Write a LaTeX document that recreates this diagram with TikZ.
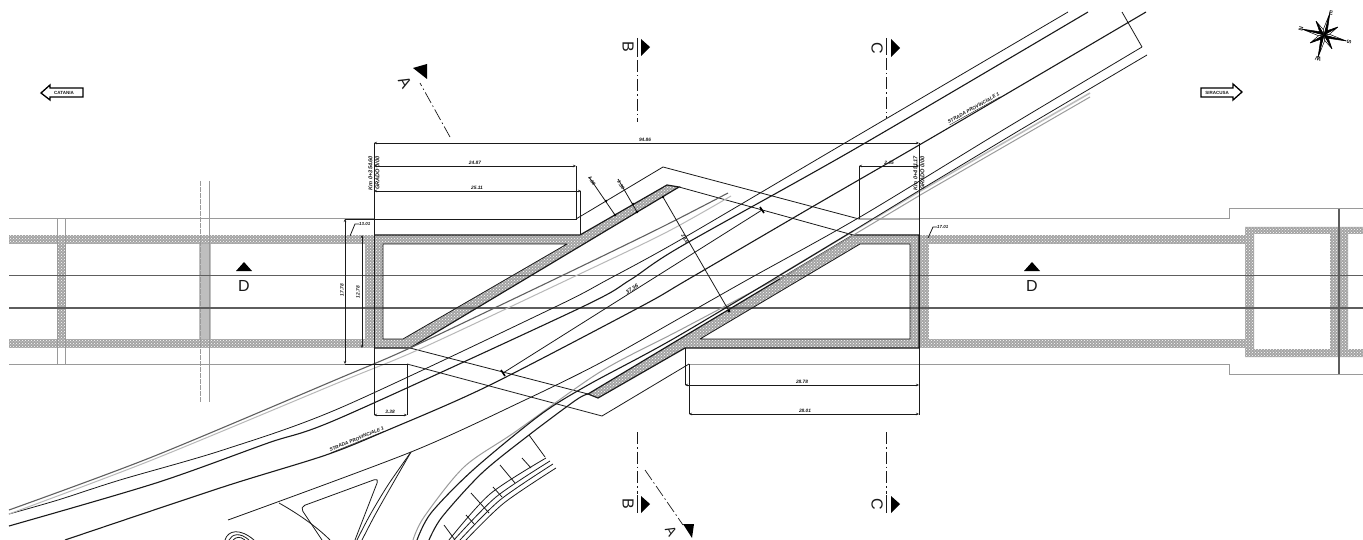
\documentclass[tikz,border=0pt]{standalone}
\usepackage{fontspec}
\setmainfont{Liberation Sans}
\usetikzlibrary{arrows.meta,patterns}
\definecolor{hatch}{HTML}{A4A4A4}
\definecolor{hatchlight}{HTML}{BEBEBE}
\definecolor{rail}{HTML}{9A9A9A}
\definecolor{mid}{HTML}{5E5E5E}
\definecolor{ink}{HTML}{1A1A1A}
\tikzset{
  band/.style={fill=hatch,draw=none,postaction={pattern=crosshatch dots,pattern color=white}},
  railline/.style={draw=rail,line width=1pt},
  axis/.style={draw=mid,line width=1.3pt},
  road/.style={draw=ink,line width=.8pt,line join=round},
  roadthick/.style={draw=ink,line width=1.1pt,line join=round},
  roadgray/.style={draw=rail,line width=1pt,line join=round},
  edge/.style={draw=ink,line width=1.2pt,line join=miter},
  dimline/.style={draw=ink,line width=.8pt},
  dim/.style={draw=ink,line width=.8pt,{Stealth[length=3pt,width=2.5pt]}-{Stealth[length=3pt,width=2.5pt]}},
  dimtext/.style={font=\fontsize{4.8}{5}\selectfont\bfseries\itshape,inner sep=0pt,text=ink},
  sectionline/.style={draw=ink,line width=.7pt,dash pattern=on 12pt off 3pt on 1.5pt off 3pt},
  sectionbar/.style={draw=ink,line width=.8pt},
  sectionmark/.style={fill=black,draw=none},
  sectionlabel/.style={font=\fontsize{16}{16}\selectfont,inner sep=0pt,text=ink},
  dirarrow/.style={draw=black,line width=1.3pt,fill=white,line join=miter},
  compassdark/.style={fill=black,draw=black,line width=.5pt,line join=miter},
  compasslight/.style={fill=white,draw=black,line width=.5pt,line join=miter},
}
\begin{document}
\begin{tikzpicture}[x=1pt,y=-1pt]
\useasboundingbox (0,0) rectangle (1363,540);
\clip (0,0) rectangle (1363,540);
\fill[white] (0,0) rectangle (1363,540);

% --- hatched walls ---
\fill[band] (9,235) rectangle (374,244);
\fill[band] (9,339) rectangle (374,348);
\fill[band] (57,244) rectangle (65,339);
\fill[hatchlight] (199,244) rectangle (211,339);
\fill[band] (365,244) rectangle (374,339);
\fill[band,even odd rule] (374,235) -- (580,235) -- (667,185) -- (679,187) -- (410,348) -- (374,348) -- cycle
   (383,244) -- (567,244) -- (403,339) -- (383,339) -- cycle;
\fill[band,even odd rule] (588,394) -- (853,235) -- (919,235) -- (919,348) -- (685,348) -- (598,398) -- cycle
   (700,339) -- (860,244) -- (910,244) -- (910,339) -- cycle;
\fill[band] (919,235) rectangle (929,348);
\fill[band] (929,235) rectangle (1246,244);
\fill[band] (929,339) rectangle (1246,348);
\fill[band,even odd rule] (1245,227) rectangle (1363,357)
   (1254,234) rectangle (1330,349)
   (1348,234) rectangle (1364,349);

% --- rail / road outer lines ---
\draw[railline] (9,219) -- (374,219);
\draw[railline] (919,219) -- (1229,219) -- (1229,209) -- (1363,209);
\draw[railline] (9,364) -- (374,364);
\draw[railline] (689,364) -- (1229,364) -- (1229,374) -- (1363,374);
\draw[railline] (57,219) -- (57,364);
\draw[railline] (65,219) -- (65,364);
\draw[railline,dash pattern=on 5pt off 1pt] (200,181) -- (200,402);
\draw[railline] (209,181) -- (209,402);
\draw[axis] (9,275.5) -- (1363,275.5);
\draw[axis] (9,308) -- (1363,308);
\draw[axis] (1339,209) -- (1339,374);

% --- box edges ---
\draw[edge] (374,235) -- (580,235) -- (667,185) -- (679,187) -- (410,348) -- (374,348);
\draw[road] (383,244) -- (567,244) -- (403,339) -- (383,339) -- cycle;
\draw[edge] (588,394) -- (853,235) -- (919,235) -- (919,348) -- (685,348) -- (598,398) -- cycle;
\draw[road] (700,339) -- (860,244) -- (910,244) -- (910,339) -- cycle;

% --- bridge outline ---
\draw[road] (576,219) -- (663,167) -- (859,219) -- (919,219);
\draw[road] (679,187) -- (853,235);
\draw[road] (410,348) -- (588,394);
\draw[road] (407,364) -- (602,416) -- (689,364);

% --- curved roads ---
\draw[road] plot[smooth] coordinates {(1068,12) (833,150) (680,240) (607,280) (553,308) (340,408) (223,450) (120,480) (58,500) (9,514)};
\draw[roadthick] plot[smooth] coordinates {(1088,12) (853,150) (680,247) (630,280) (580,308) (340,418) (268,443) (156,483) (9,526)};
\draw[roadthick] plot[smooth] coordinates {(1146,12) (945,130) (812,207) (687,280) (640,307) (488,386) (388,430) (326,455) (223,487) (65,540)};
\draw[road] plot[smooth] coordinates {(1142,47) (1003,130) (860,217) (747,280) (680,318) (600,363) (525,400) (411,452) (228,520)};
\draw[road] (1122,12) -- (1142,47);
% double gray pair
\draw[roadthick,draw=ink!70] plot[smooth] coordinates {(728,193) (660,228) (553,280) (410,348) (340,378) (152,457) (9,510)};
\draw[roadgray,draw=rail!70] plot[smooth] coordinates {(731,196) (665,233) (567,280) (420,349) (340,382) (152,460) (9,514)};
\draw[roadgray,line width=1.6pt,draw=rail!65] (1090,93) -- (922,190) -- (780,275);
\draw[roadgray] (1090,97) -- (922,194) -- (780,279);
% right edge continuing into the curved ramp
\draw[roadgray] plot[smooth] coordinates {(780,277) (680,330) (600,372) (515,432) (464,467) (424,517) (413,540)};
\draw[road] (1147,55) -- (1020,130) -- (920,190) -- (853,231);
\draw[roadthick] plot[smooth] coordinates {(853,231) (680,335) (588,385) (540,415) (473,470) (431,513) (417,540)};
\draw[roadthick] plot[smooth] coordinates {(588,394) (576,400) (529,435) (482,473) (442,517) (429,540)};
\draw[road] plot[smooth] coordinates {(556,468) (504,503) (466,540)};
\draw[road] plot[smooth] coordinates {(553,464) (500,500) (460,540)};
\draw[road] plot[smooth] coordinates {(550,461) (496,497) (454,540)};
\draw[road] plot[smooth] coordinates {(546,458) (490,494) (449,540)};
\draw[road] (529,435) -- (545,457);
\draw[road] (500,465) -- (515,483);
\draw[road] (471,493) -- (489,513);
\draw[road] (444,525) -- (455,540);
\draw[road] (522,458) -- (531,468);
\draw[road] (493,487) -- (502,497);
\draw[road] (466,515) -- (475,525);
% junction
\draw[road] plot[smooth] coordinates {(411,452) (392,485) (375,515) (362,540)};
\draw[road] plot[smooth] coordinates {(411,452) (388,485) (370,515) (357,540)};
\draw[road] (279,503) .. controls (295,512) and (315,525) .. (330,540);
\draw[road,rounded corners=5pt] (322,540) -- (300,507) -- (379,478) -- (355,540);
\draw[road] (225,540) .. controls (228,530) and (240,528) .. (254,540);
\draw[road] (229,540) .. controls (232,534) and (240,532) .. (249,540);
\draw[road] (233,540) .. controls (236,537) and (240,536) .. (245,540);

% --- dimensions ---
\draw[dimline] (374,143) -- (374,415);
\draw[dimline] (919,143) -- (919,415);
\draw[dim] (374,143) -- (919,143);
\node[dimtext] (d9486) at (645,140) {94.86};
\draw[dim] (374,166) -- (576,166);
\node[dimtext] (d2487) at (475,163) {24.87};
\draw[dimline] (576,166) -- (576,219) -- (374,219);
\draw[dim] (374,191) -- (581,191);
\node[dimtext] (d2511) at (477,188) {25.11};
\draw[dimline] (580,191) -- (580,235);
\draw[dim] (859,166) -- (919,166);
\node[dimtext] (d245) at (889,163) {2.45};
\draw[dimline] (859,166) -- (859,219);
\draw[dim] (345,219) -- (345,364);
\node[dimtext,rotate=90] (d1778) at (342,290) {17.78};
\draw[dim] (362,235) -- (362,348);
\node[dimtext,rotate=90] (d1278) at (358,292) {12.78};
\draw[dimline] (345,219) -- (374,219);
\draw[dimline] (345,364) -- (407,364) -- (407,415);
\draw[dim] (374,415) -- (407,415);
\node[dimtext] (d338) at (390,412) {3.38};
\draw[dimline] (685,348) -- (685,385);
\draw[dim] (685,385) -- (919,385);
\node[dimtext] (d2878) at (802,382) {28.78};
\draw[dimline] (689,364) -- (689,414);
\draw[dim] (689,414) -- (919,414);
\node[dimtext] (d2801) at (805,411) {28.01};
\draw[dimline] (589,177) -- (615,215);
\draw[dimline] (618,179) -- (637,212);
\node[dimtext,rotate=-60] (d160) at (592,181) {1.60};
\node[dimtext,rotate=-60] (d130) at (621,185) {1.30};
\fill[black] (606,201) circle (1.3) (633,204) circle (1.3) (615,215) circle (1.3) (637,212) circle (1.3);
\draw[dimline] (663,197) -- (729,311);
\fill[black] (663,197) circle (1.3) (729,311) circle (1.6);
\node[dimtext,rotate=-60] (d246) at (685,239) {24.6};
\draw[dimline] (503,373) -- (762,210);
\draw[line width=1.6pt] (501,370) -- (505,376) (760,207) -- (764,213);
\node[dimtext,rotate=33,font=\fontsize{5.5}{6}\selectfont\bfseries\itshape] (d3736) at (632,289) {37.36};
\node[dimtext,rotate=90,align=center,font=\fontsize{5.6}{6}\selectfont\bfseries\itshape] (kml) at (374,173) {Km 0+354.60\\[1pt]GRADO 0/00};
\node[dimtext,rotate=90,align=center,font=\fontsize{5.6}{6}\selectfont\bfseries\itshape] (kmr) at (919,173) {Km 0+451.17\\[1pt]GRADO 0/00};
\draw[dimline] (350,236) -- (355,224) -- (359,224);
\node[dimtext,font=\fontsize{4.4}{5}\selectfont\bfseries\itshape,anchor=west] (t1) at (359,224) {13.01};
\draw[dimline] (928,238) -- (933,227) -- (937,227);
\node[dimtext,font=\fontsize{4.4}{5}\selectfont\bfseries\itshape,anchor=west] (t2) at (937,227) {17.01};

% --- road names ---
\node[dimtext,rotate=29] (rn1) at (974,109) {\underline{STRADA PROVINCIALE 1}};
\node[dimtext,rotate=22] (rn2) at (357,440) {\underline{STRADA PROVINCIALE 1}};

% --- section marks ---
\draw[sectionline] (637,60) -- (637,122);
\draw[sectionbar] (637,38) -- (637,57);
\fill[sectionmark] (641,39) -- (650,47) -- (641,56) -- cycle;
\node[sectionlabel,rotate=-90] (b1) at (628,47) {B};
\draw[sectionline] (637,432) -- (637,494);
\draw[sectionbar] (637,495) -- (637,513);
\fill[sectionmark] (641,496) -- (650,504) -- (641,513) -- cycle;
\node[sectionlabel,rotate=-90] (b2) at (628,504) {B};
\draw[sectionline] (886,58) -- (886,118);
\draw[sectionbar] (886,38) -- (886,55);
\fill[sectionmark] (891,39) -- (900,48) -- (891,57) -- cycle;
\node[sectionlabel,rotate=-90] (c1) at (877,48) {C};
\draw[sectionline] (886,432) -- (886,494);
\draw[sectionbar] (886,495) -- (886,513);
\fill[sectionmark] (891,496) -- (900,504) -- (891,513) -- cycle;
\node[sectionlabel,rotate=-90] (c2) at (877,504) {C};
\draw[sectionline] (450,137) -- (420,83);
\fill[sectionmark] (413,68) -- (427,64) -- (427,79) -- cycle;
\node[sectionlabel,rotate=-61] (a1) at (405,83) {A};
\draw[sectionline] (645,470) -- (683,525);
\fill[sectionmark] (683,524) -- (694,524) -- (692,538) -- cycle;
\node[sectionlabel,rotate=-61,font=\fontsize{14}{14}\selectfont] (a2) at (671,531) {A};
\fill[sectionmark] (244,262) -- (252,271) -- (236,271) -- cycle;
\node[sectionlabel] (d1) at (244,286) {D};
\fill[sectionmark] (1032,262) -- (1040,271) -- (1024,271) -- cycle;
\node[sectionlabel] (d2) at (1032,286) {D};

% --- direction arrows ---
\draw[dirarrow] (83,88) -- (50,88) -- (50,85) -- (41,93) -- (50,100) -- (50,97) -- (83,97) -- cycle;
\node[dimtext,font=\fontsize{4.5}{5}\selectfont\bfseries] (cat) at (64,92.5) {CATANIA};
\draw[dirarrow] (1201,88) -- (1233,88) -- (1233,84) -- (1242,92) -- (1233,100) -- (1233,97) -- (1201,97) -- cycle;
\node[dimtext,font=\fontsize{4.5}{5}\selectfont\bfseries] (sir) at (1217,92.5) {SIRACUSA};

% --- compass ---
\begin{scope}[shift={(1324,35)}]
\foreach \a in {15,105,195,285}{
  \draw[compasslight] (0,0) -- (\a:23) -- (\a-22.5:5.5) -- cycle;
  \draw[compassdark] (0,0) -- (\a:23) -- (\a+22.5:5.5) -- cycle;
  \draw[compasslight] (0,0) -- (\a+45:16) -- (\a+67.5:5.5) -- cycle;
  \draw[compassdark] (0,0) -- (\a+45:16) -- (\a+22.5:5.5) -- cycle;
}
\end{scope}
\node[dimtext,font=\fontsize{6}{6}\selectfont\bfseries,rotate=-15] (ce) at (1331,13) {E};
\node[dimtext,font=\fontsize{6}{6}\selectfont\bfseries,rotate=75] (cn) at (1301,29) {N};
\node[dimtext,font=\fontsize{6}{6}\selectfont\bfseries,rotate=-105] (cs) at (1349,42) {S};
\node[dimtext,font=\fontsize{6}{6}\selectfont\bfseries,rotate=165] (cw) at (1318,59) {W};
\end{tikzpicture}
\end{document}
